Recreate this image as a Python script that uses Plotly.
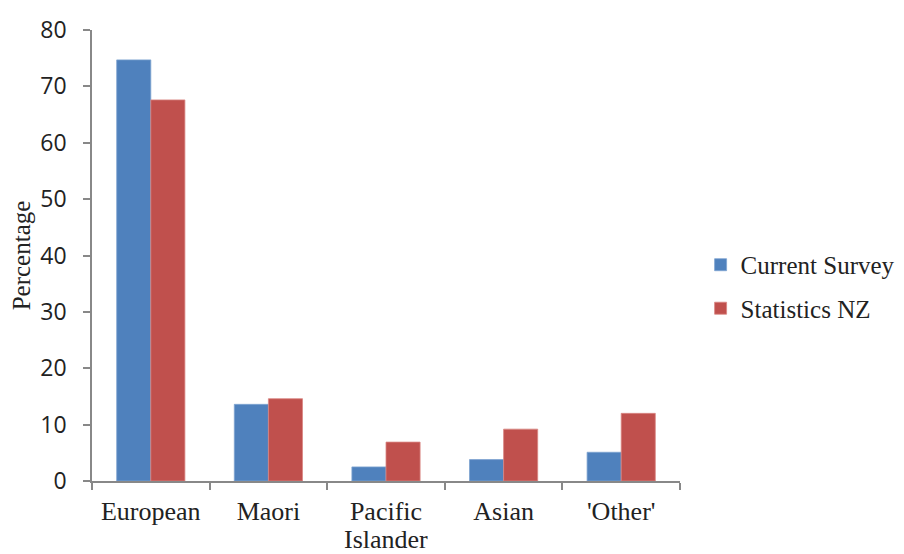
import plotly.graph_objects as go

categories = ["European", "Maori", "Pacific Islander", "Asian", "'Other'"]
tick_labels = ["European", "Maori", "Pacific", "Asian", "'Other'"]
current_survey = [74.7, 13.6, 2.5, 3.8, 5.1]
statistics_nz = [67.6, 14.6, 6.9, 9.2, 12.0]
y_ticks = [0, 10, 20, 30, 40, 50, 60, 70, 80]

fig = go.Figure()
fig.add_trace(go.Bar(name="Current Survey", x=categories, y=current_survey, legendgroup="a",
                     marker=dict(color="#4F81BD", line=dict(width=0.8, color="#7EA3D1"))))
fig.add_trace(go.Bar(name="Statistics NZ", x=categories, y=statistics_nz, legendgroup="b",
                     marker=dict(color="#C0504D", line=dict(width=0.8, color="#D98683"))))

# second line of the wrapped "Pacific Islander" label (tight line spacing as in the reference)
fig.add_annotation(text="Islander", x="Pacific Islander", xref="x", y=0, yref="paper",
                   yanchor="top", yshift=-43, height=26, valign="middle", showarrow=False,
                   font=dict(family="Liberation Serif", size=26, color="#222"))

fig.update_layout(
    width=896, height=546,
    margin=dict(l=84, r=224, t=22, b=73, autoexpand=False),
    paper_bgcolor="white", plot_bgcolor="white",
    barmode="group", bargap=0.42, bargroupgap=0,
    legend=dict(xref="container", yref="container", x=0.773, y=0.49,
                xanchor="left", yanchor="middle",
                font=dict(family="Liberation Serif", size=25, color="#222"),
                tracegroupgap=8, itemwidth=30),
    showlegend=True,
)
fig.update_xaxes(
    automargin=False,
    tickvals=categories, ticktext=tick_labels, ticklabelstandoff=6,
    showline=True, linecolor="#888", linewidth=1.5,
    ticks="outside", tickson="boundaries", ticklen=7, tickcolor="#888", tickwidth=1.5,
    tickfont=dict(family="Liberation Serif", size=26, color="#222"),
    showgrid=False,
)
fig.update_yaxes(
    automargin=False,
    range=[0, 80], tickvals=y_ticks, ticklabelstandoff=12,
    showline=True, linecolor="#888", linewidth=1.5,
    ticks="outside", ticklen=7, tickcolor="#888", tickwidth=1.5,
    tickfont=dict(family="Open Sans", size=23, color="#222"),
    showgrid=False, zeroline=False,
    title=dict(text="Percentage", font=dict(family="Liberation Serif", size=25, color="#222"), standoff=13),
)

fig.write_html("out.html")
